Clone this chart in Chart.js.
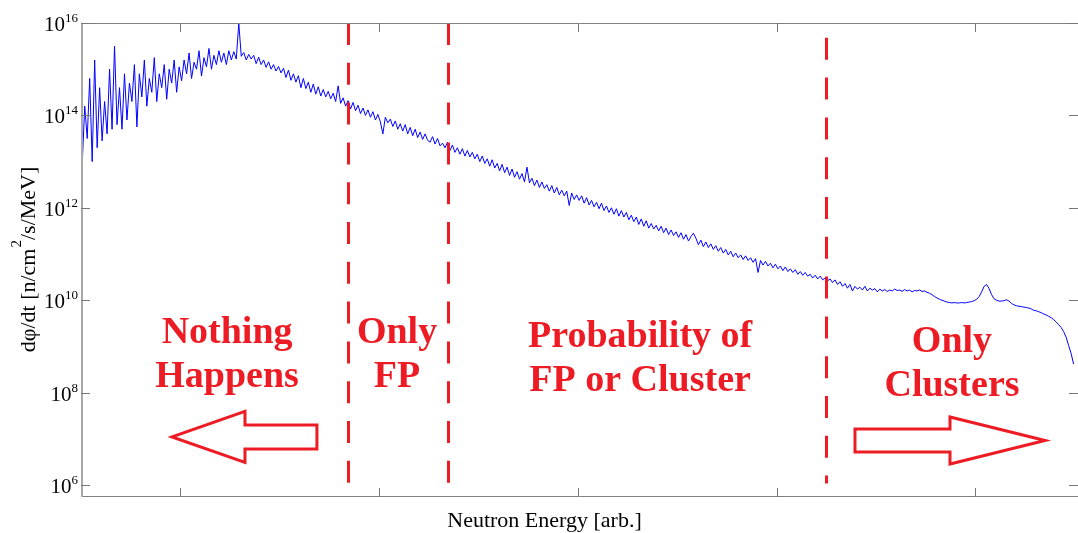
<!DOCTYPE html>
<html lang="en">
<head>
<meta charset="UTF-8">
<title>Neutron Flux vs Energy</title>
<script src="https://cdn.jsdelivr.net/npm/chart.js"></script>
<style>
    body { margin: 0; background: #fff; }
    #wrap { width: 1078px; height: 533px; }
</style>
</head>
<body>
<div id="wrap"><canvas id="fluxChart" width="1078" height="533"></canvas></div>
<script>
// energy axis (arb. units): 400 equal bins
const binWidth = 0.0125;
const xMax = 5.016;
const xTickVals = [0.5, 1.5, 2.5, 3.5, 4.5];

// log10 of dphi/dt per bin
const logFlux = [
    12.95, 14.2, 13.5, 14.8, 13.0, 15.2, 13.3, 14.6, 13.45, 14.3, 13.6, 15.0, 13.7, 15.5, 13.8, 14.6, 13.7, 14.9, 13.9, 14.7,
    14.3, 15.1, 13.75, 14.9, 14.4, 15.2, 14.2, 14.8, 14.5, 15.25, 14.3, 14.9, 14.6, 15.1, 14.35, 15.0, 14.7, 15.2, 14.5, 15.05,
    14.75, 15.2, 14.9, 15.35, 14.8, 15.15, 15.0, 15.4, 14.85, 15.25, 15.05, 15.45, 15.0, 15.3, 15.1, 15.4, 15.15, 15.35, 15.1, 15.4,
    15.2, 15.38, 15.22, 16.0, 15.28, 15.36, 15.2, 15.32, 15.22, 15.3, 15.12, 15.26, 15.1, 15.2, 15.04, 15.16, 15.0, 15.1, 14.96, 15.06,
    14.92, 15.02, 14.82, 14.98, 14.76, 14.9, 14.72, 14.86, 14.6, 14.8, 14.58, 14.72, 14.5, 14.68, 14.46, 14.62, 14.42, 14.56, 14.4, 14.52,
    14.36, 14.48, 14.3, 14.64, 14.26, 14.38, 14.2, 14.32, 14.14, 14.28, 14.1, 14.22, 14.04, 14.16, 14.0, 14.12, 13.96, 14.08, 13.9, 14.02,
    13.86, 13.6, 13.96, 13.84, 13.92, 13.76, 13.88, 13.7, 13.82, 13.66, 13.8, 13.6, 13.74, 13.56, 13.7, 13.52, 13.64, 13.48, 13.6, 13.46,
    13.42, 13.54, 13.38, 13.5, 13.34, 13.4, 13.3, 13.42, 13.24, 13.36, 13.2, 13.3, 13.16, 13.28, 13.12, 13.24, 13.1, 13.2, 13.06, 13.16,
    13.0, 13.12, 12.96, 13.06, 12.9, 13.04, 12.86, 12.96, 12.8, 12.94, 12.76, 12.88, 12.7, 12.84, 12.66, 12.78, 12.62, 12.74, 12.56, 12.88,
    12.54, 12.64, 12.48, 12.6, 12.44, 12.56, 12.42, 12.5, 12.36, 12.48, 12.32, 12.44, 12.28, 12.38, 12.26, 12.36, 12.05, 12.32, 12.18, 12.28,
    12.16, 12.26, 12.1, 12.22, 12.06, 12.16, 12.02, 12.12, 11.98, 12.1, 11.94, 12.04, 11.9, 12.0, 11.86, 11.98, 11.82, 11.94, 11.8, 11.9,
    11.74, 11.84, 11.7, 11.8, 11.64, 11.76, 11.6, 11.72, 11.56, 11.66, 11.54, 11.62, 11.5, 11.6, 11.46, 11.56, 11.42, 11.52, 11.4, 11.48,
    11.36, 11.46, 11.32, 11.42, 11.28, 11.38, 11.45, 11.34, 11.2, 11.3, 11.16, 11.26, 11.14, 11.22, 11.1, 11.18, 11.06, 11.14, 11.02, 11.1,
    10.98, 11.06, 10.94, 11.02, 10.92, 10.98, 10.88, 10.96, 10.86, 10.92, 10.82, 10.9, 10.6, 10.86, 10.76, 10.84, 10.74, 10.8, 10.7, 10.78,
    10.68, 10.74, 10.64, 10.72, 10.62, 10.68, 10.6, 10.66, 10.56, 10.62, 10.54, 10.6, 10.52, 10.56, 10.48, 10.54, 10.46, 10.52, 10.44, 10.48,
    10.42, 10.46, 10.38, 10.44, 10.34, 10.4, 10.3, 10.36, 10.26, 10.34, 10.2, 10.3, 10.24, 10.28, 10.22, 10.3, 10.2, 10.26, 10.22, 10.25,
    10.18, 10.24, 10.2, 10.23, 10.19, 10.22, 10.2, 10.24, 10.21, 10.22, 10.19, 10.23, 10.2, 10.22, 10.18, 10.21, 10.2, 10.22, 10.19, 10.2,
    10.17, 10.15, 10.12, 10.08, 10.05, 10.02, 10.0, 9.98, 9.96, 9.95, 9.94, 9.95, 9.94, 9.94, 9.95, 9.94, 9.95, 9.96, 9.97, 9.99,
    10.02, 10.08, 10.18, 10.3, 10.34, 10.25, 10.12, 10.03, 10.0, 9.98, 9.98, 9.99, 10.01, 9.98, 9.93, 9.9, 9.88, 9.87, 9.86, 9.85,
    9.84, 9.83, 9.81, 9.78, 9.77, 9.75, 9.73, 9.7, 9.68, 9.65, 9.62, 9.58, 9.53, 9.47, 9.41, 9.32, 9.2, 9.02, 8.85, 8.62
];

// y axis: decades shown
const yMinExp = 5.74;
const yMaxExp = 16;
const yTickExps = [6, 8, 10, 12, 14, 16];

// regions (energy, arb.)
const regionEdges = [1.343, 1.847, 3.748];
const regionEdgeTop = [16, 16, 15.68];
const regionEdgeBottom = 6.03;
const regionLabels = [['Nothing', 'Happens'], ['Only', 'FP'], ['Probability of', 'FP or Cluster'], ['Only', 'Clusters']];
const regionLabelX = [0.735, 1.59, 2.813, 4.382];
const regionLabelExp = [9.07, 9.07, 8.99, 8.88];

// arrows: tip, head base, tail (energy) / centre, shaft and head half heights (decades)
const arrowLeft = { tip: 0.458, head: 0.825, tail: 1.187, c: 7.04, shaft: 0.26, headH: 0.552 };
const arrowRight = { tip: 4.85, head: 4.372, tail: 3.894, c: 6.963, shaft: 0.249, headH: 0.508 };

const RED = '#ed1c24';
const SERIF = '"Liberation Serif", "Times New Roman", serif';

const points = logFlux.map((v, i) => ({ x: (i + 0.5) * binWidth, y: Math.pow(10, v) }));

const decor = {
    id: 'decor',
    afterDatasetsDraw(chart) {
        const { ctx, scales: { x, y } } = chart;
        const py = e => y.getPixelForValue(Math.pow(10, e));
        ctx.save();

        // region boundaries
        ctx.strokeStyle = RED;
        ctx.lineWidth = 3;
        ctx.setLineDash([22, 17.8]);
        regionEdges.forEach((v, i) => {
            const px = Math.round(x.getPixelForValue(v)) + 0.5;
            ctx.beginPath();
            ctx.moveTo(px, py(regionEdgeTop[i]));
            ctx.lineTo(px, py(regionEdgeBottom));
            ctx.stroke();
        });
        ctx.setLineDash([]);

        // arrows
        [arrowLeft, arrowRight].forEach(a => {
            const xt = x.getPixelForValue(a.tip), xh = x.getPixelForValue(a.head), xs = x.getPixelForValue(a.tail);
            ctx.beginPath();
            ctx.moveTo(xt, py(a.c));
            ctx.lineTo(xh, py(a.c + a.headH));
            ctx.lineTo(xh, py(a.c + a.shaft));
            ctx.lineTo(xs, py(a.c + a.shaft));
            ctx.lineTo(xs, py(a.c - a.shaft));
            ctx.lineTo(xh, py(a.c - a.shaft));
            ctx.lineTo(xh, py(a.c - a.headH));
            ctx.closePath();
            ctx.lineJoin = 'miter';
            ctx.stroke();
        });

        // region labels
        ctx.fillStyle = RED;
        ctx.font = 'bold 38px ' + SERIF;
        ctx.textAlign = 'center';
        ctx.textBaseline = 'alphabetic';
        regionLabels.forEach((lines, i) => {
            const cx = x.getPixelForValue(regionLabelX[i]);
            const by = py(regionLabelExp[i]);
            lines.forEach((t, j) => ctx.fillText(t, cx, by + j * 44));
        });
        ctx.restore();
    },
    afterDraw(chart) {
        const { ctx, chartArea: a, scales: { x, y } } = chart;
        ctx.save();

        // frame
        ctx.strokeStyle = '#808080';
        ctx.lineWidth = 1;
        ctx.beginPath();
        ctx.moveTo(a.left, a.top + 0.5); ctx.lineTo(a.right, a.top + 0.5);
        ctx.moveTo(a.left, a.bottom - 0.5); ctx.lineTo(a.right, a.bottom - 0.5);
        ctx.stroke();
        ctx.strokeStyle = '#a8a8a8';
        ctx.lineWidth = 2;
        ctx.beginPath();
        ctx.moveTo(a.left + 1, a.top); ctx.lineTo(a.left + 1, a.bottom);
        ctx.stroke();

        // inward ticks
        ctx.strokeStyle = '#777';
        ctx.lineWidth = 1;
        ctx.beginPath();
        xTickVals.forEach(v => {
            const px = Math.round(x.getPixelForValue(v)) + 0.5;
            ctx.moveTo(px, a.bottom); ctx.lineTo(px, a.bottom - 9);
            ctx.moveTo(px, a.top); ctx.lineTo(px, a.top + 9);
        });
        yTickExps.forEach(e => {
            const ty = Math.round(y.getPixelForValue(Math.pow(10, e))) + 0.5;
            ctx.moveTo(a.left, ty); ctx.lineTo(a.left + 9, ty);
            ctx.moveTo(a.right, ty); ctx.lineTo(a.right - 9, ty);
        });
        ctx.stroke();

        // y tick labels 10^n
        ctx.fillStyle = '#000';
        ctx.textBaseline = 'alphabetic';
        yTickExps.forEach(e => {
            const ty = y.getPixelForValue(Math.pow(10, e));
            const es = String(e);
            ctx.font = '13px ' + SERIF;
            const w = ctx.measureText(es).width;
            const ex = a.left - 3 - w;
            ctx.textAlign = 'left';
            ctx.fillText(es, ex, ty - 1);
            ctx.font = '21px ' + SERIF;
            ctx.textAlign = 'right';
            ctx.fillText('10', ex, ty + 8);
        });

        // x title
        ctx.font = '22px ' + SERIF;
        ctx.textAlign = 'center';
        ctx.fillText('Neutron Energy [arb.]', (a.left + a.right) / 2 - 35, a.bottom + 30);

        // y title with superscript
        const p1 = 'd\u03c6/dt [n/cm', p2 = '2', p3 = '/s/MeV]';
        ctx.font = '22px ' + SERIF;
        const w1 = ctx.measureText(p1).width, w3 = ctx.measureText(p3).width;
        ctx.font = '15px ' + SERIF;
        const w2 = ctx.measureText(p2).width;
        const total = w1 + w2 + w3;
        ctx.translate(35, (a.top + a.bottom) / 2);
        ctx.rotate(-Math.PI / 2);
        ctx.textAlign = 'left';
        let cx = -total / 2;
        ctx.font = '22px ' + SERIF;
        ctx.fillText(p1, cx, 0); cx += w1 + 1;
        ctx.font = '15px ' + SERIF;
        ctx.fillText(p2, cx, -14); cx += w2;
        ctx.font = '22px ' + SERIF;
        ctx.fillText(p3, cx, 0);
        ctx.restore();
    }
};

const ctx = document.getElementById('fluxChart').getContext('2d');
new Chart(ctx, {
    type: 'line',
    data: {
        datasets: [{
            data: points,
            borderColor: '#0000ff',
            borderWidth: 1,
            pointRadius: 0,
            tension: 0,
            fill: false
        }]
    },
    options: {
        responsive: false,
        animation: false,
        devicePixelRatio: 1,
        layout: { padding: { top: 23, right: 0, left: 0, bottom: 0 } },
        plugins: { legend: { display: false }, tooltip: { enabled: false } },
        scales: {
            x: {
                type: 'linear', min: 0, max: xMax,
                grid: { display: false }, border: { display: false },
                ticks: { display: false },
                afterBuildTicks: s => { s.ticks = xTickVals.map(v => ({ value: v })); },
                afterFit: s => { s.height = 36; }
            },
            y: {
                type: 'logarithmic', min: Math.pow(10, yMinExp), max: Math.pow(10, yMaxExp),
                grid: { display: false }, border: { display: false },
                ticks: { display: false },
                afterBuildTicks: s => { s.ticks = yTickExps.map(e => ({ value: Math.pow(10, e) })); },
                afterFit: s => { s.width = 81; }
            }
        }
    },
    plugins: [decor]
});
</script>
</body>
</html>
